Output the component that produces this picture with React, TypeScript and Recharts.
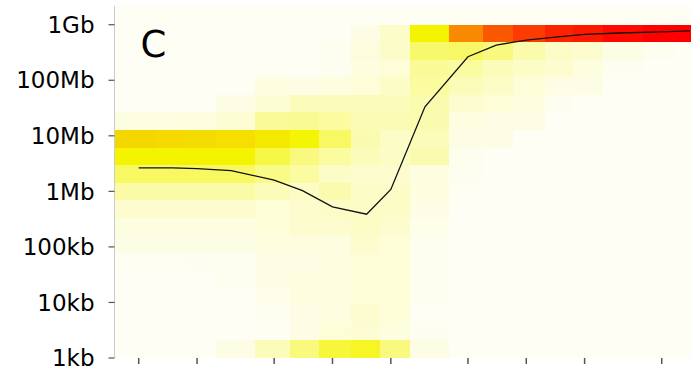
import React from 'react';
import { ComposedChart, XAxis, YAxis, ReferenceArea, Line } from 'recharts';

// x bins (log-spaced categories) and their edges
const xBinCenters = [1, 1.5, 2, 3, 5, 7, 10, 15, 20, 30, 50, 70, 100, 150, 200, 300, 500, 700];
const xBinEdges = [0.75, 1.25, 1.75, 2.5, 4, 6, 8.5, 12.5, 17.5, 25, 40, 60, 85, 125, 175, 250, 400, 600, 850];
const xTicks = [1, 2, 5, 10, 20, 50, 100, 200, 500];

// y bins (size, bytes) edges, bottom to top
const yBinEdges = [
  1000, 2069, 4281, 8859, 18330, 37927, 78476, 162378, 335982, 695193, 1438450, 2976351,
  6158482, 12742750, 26366509, 54555948, 112883789, 233572147, 483293024, 1000000000, 2069138081,
];
const yTicks = [1e3, 1e4, 1e5, 1e6, 1e7, 1e8, 1e9];
const yTickLabels = ['1kb', '10kb', '100kb', '1Mb', '10Mb', '100Mb', '1Gb'];

// density (0-100) per y bin row, bottom row first; one value per x bin
const row0 = [0, 0, 0, 3, 12, 25, 38, 42, 24, 3, 0, 0, 0, 0, 0, 0, 0, 0];
const row1 = [0, 0, 0, 0, 0.5, 3, 6, 7, 4.5, 1, 0, 0, 0, 0, 0, 0, 0, 0];
const row2 = [0, 0, 0, 0, 1, 3, 4.5, 8, 6, 0, 0, 0, 0, 0, 0, 0, 0, 0];
const row3 = [0, 0, 0, 0, 2, 4.5, 4.5, 6, 6, 1, 0, 0, 0, 0, 0, 0, 0, 0];
const row4 = [0, 0, 0, 1, 3, 4.5, 4.5, 6, 6, 1, 0, 0, 0, 0, 0, 0, 0, 0];
const row5 = [0.5, 0.5, 1, 1, 3, 3, 4.5, 6, 6, 1, 0, 0, 0, 0, 0, 0, 0, 0];
const row6 = [3, 3, 3, 3, 4.5, 5, 4.5, 8, 6, 1, 0, 0, 0, 0, 0, 0, 0, 0];
const row7 = [4.5, 4.5, 4.5, 4.5, 6, 8, 8, 9.5, 8, 2.5, 0, 0, 0, 0, 0, 0, 0, 0];
const row8 = [8, 8, 8, 8, 6, 8, 9.5, 9.5, 9.5, 3, 0, 0, 0, 0, 0, 0, 0, 0];
const row9 = [16, 16, 16, 16, 12, 10, 14, 9.5, 9.5, 4.5, 0.5, 0, 0, 0, 0, 0, 0, 0];
const row10 = [30, 30, 30, 30, 22, 17, 9.5, 8, 8, 4.5, 1, 0, 0, 0, 0, 0, 0, 0];
const row11 = [50, 50, 50, 50, 36, 24, 17.5, 12, 9.5, 14, 1.5, 0, 0, 0, 0, 0, 0, 0];
const row12 = [56, 55.5, 55, 54.5, 52, 49, 30, 14, 9.5, 12, 3, 3, 0, 0, 0, 0, 0, 0];
const row13 = [4, 4, 4.5, 7, 19, 20, 17.5, 13, 13, 14, 4.5, 3, 3, 0, 0, 0, 0, 0];
const row14 = [0, 0, 0, 3, 7, 12, 12, 12, 12, 14, 8, 6, 4.5, 1, 0, 0, 0, 0];
const row15 = [0, 0, 0, 0, 4.5, 3, 4.5, 6, 9.5, 17.5, 12, 9.5, 6, 3, 3, 0, 0, 0];
const row16 = [0, 0, 0, 0, 0, 0, 1, 4.5, 6, 19, 17.5, 12, 9.5, 8, 4.5, 1, 0, 0];
const row17 = [0, 0, 0, 0, 0, 0, 1, 5, 9, 28, 29, 24, 15, 9.5, 8, 3, 1, 0];
const row18 = [0, 0, 0, 0, 0, 0, 0, 3, 9, 50, 72, 82, 88, 93, 95, 98, 100, 100];
const row19 = [0, 0, 0, 0, 0, 0, 0, 0, 0, 0, 0, 0, 0, 0, 0, 0, 0, 0];
const densityRows = [row0, row1, row2, row3, row4, row5, row6, row7, row8, row9, row10,
  row11, row12, row13, row14, row15, row16, row17, row18, row19];

// median size line, one value per x bin
const medianSize = [2.65e6, 2.65e6, 2.56e6, 2.36e6, 1.6e6, 1.03e6, 5.25e5, 3.88e5, 1.08e6,
  3.33e7, 2.65e8, 4.3e8, 5.3e8, 6.1e8, 6.7e8, 7.1e8, 7.45e8, 7.75e8];

const lineData = xBinCenters.map((x, i) => ({ x, y: medianSize[i] }));

function heatColor(v: number): string {
  const t = Math.max(0, Math.min(1, v / 100));
  let r: number, g: number, b: number;
  if (t <= 0.5) {
    const s = t / 0.5;
    r = 254 + (244 - 254) * s;
    g = 254 + (244 - 254) * s;
    b = 245 * (1 - s);
  } else {
    const u = (t - 0.5) / 0.5;
    r = 244 + (254 - 244) * u;
    g = 244 * (1 - u);
    b = 0;
  }
  return `rgb(${Math.round(r)},${Math.round(g)},${Math.round(b)})`;
}

const crispRect = (props: any) => (
  <rect x={props.x} y={props.y} width={props.width} height={props.height}
    fill={props.fill} stroke="none" shapeRendering="crispEdges" />
);

const EmptyTick = () => <g />;

export default function App() {
  const cells: React.ReactNode[] = [];
  densityRows.forEach((row, ri) => {
    row.forEach((v, ci) => {
      cells.push(
        <ReferenceArea
          key={`c-${ri}-${ci}`}
          x1={xBinEdges[ci]} x2={xBinEdges[ci + 1]}
          y1={yBinEdges[ri]} y2={yBinEdges[ri + 1]}
          fill={heatColor(v)} fillOpacity={1} stroke="none"
          ifOverflow="visible" shape={crispRect}
        />
      );
    });
  });

  return (
    <div style={{ position: 'absolute', left: 0, top: 0, width: 691, height: 368, background: '#fff' }}>
      <ComposedChart width={691} height={368} data={lineData}
        margin={{ top: 6, right: 0, bottom: 0, left: 0 }}
        style={{ fontFamily: 'DejaVu Sans' }}>
        <XAxis type="number" dataKey="x" scale="log" domain={[0.75, 708]} allowDataOverflow
          ticks={xTicks} interval={0} tick={EmptyTick} height={10} tickSize={6}
          axisLine={false} tickLine={{ stroke: '#555', strokeWidth: 1.5 }} />
        <YAxis type="number" scale="log" domain={[1000, 2.173e9]} allowDataOverflow
          ticks={yTicks} interval={0} width={114.5} tickSize={6} tickMargin={14}
          tickFormatter={(v: number) => yTickLabels[yTicks.indexOf(v)] ?? ''}
          tick={{ fontSize: 23, fill: '#000', fontFamily: 'DejaVu Sans' }}
          axisLine={{ stroke: '#cccccc' }} tickLine={{ stroke: '#555', strokeWidth: 1.2 }} />
        <ReferenceArea x1={0.75} x2={708} y1={1000} y2={2.173e9} fill={heatColor(0)}
          fillOpacity={1} stroke="none" ifOverflow="visible" shape={crispRect} />
        {cells}
        <Line dataKey="y" type="linear" dot={false} activeDot={false} stroke="#111"
          strokeWidth={1.3} isAnimationActive={false} zIndex={3000} />
      </ComposedChart>
      <svg width={691} height={368} style={{ position: 'absolute', left: 0, top: 0, pointerEvents: 'none' }}>
        <text x={140.5} y={57} fontSize={37} fontFamily="DejaVu Sans" fill="#000">C</text>
      </svg>
    </div>
  );
}
